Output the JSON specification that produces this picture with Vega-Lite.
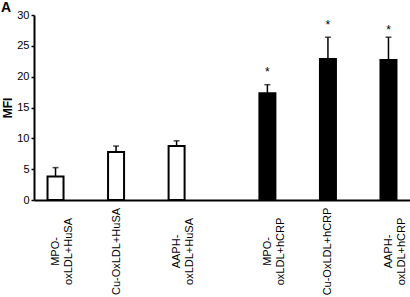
{
  "$schema": "https://vega.github.io/schema/vega-lite/v6.json",
  "width": 376,
  "height": 185,
  "autosize": {"type": "none"},
  "padding": {"left": 34, "top": 15, "right": 0, "bottom": 97},
  "background": "white",
  "title": {"text": "A", "anchor": "start", "frame": "group", "dx": -33, "offset": -6, "fontSize": 14, "fontWeight": "bold", "font": "Liberation Sans", "color": "black"},
  "data": {"values": [
    {"pos": 1, "label": "MPO- oxLDL+HuSA", "group": "HuSA", "mean": 3.8, "upper": 5.25, "star": null},
    {"pos": 2, "label": "Cu-OxLDL+HuSA", "group": "HuSA", "mean": 7.8, "upper": 8.75, "star": null},
    {"pos": 3, "label": "AAPH- oxLDL+HuSA", "group": "HuSA", "mean": 8.75, "upper": 9.6, "star": null},
    {"pos": 4.5, "label": "MPO- oxLDL+hCRP", "group": "hCRP", "mean": 17.3, "upper": 18.7, "star": 20.7},
    {"pos": 5.5, "label": "Cu-OxLDL+hCRP", "group": "hCRP", "mean": 22.85, "upper": 26.4, "star": 28.3},
    {"pos": 6.5, "label": "AAPH- oxLDL+hCRP", "group": "hCRP", "mean": 22.7, "upper": 26.4, "star": 27.6}
  ]},
  "layer": [
    {
      "mark": {"type": "bar", "size": 16, "stroke": "black", "strokeWidth": 2, "opacity": 1},
      "encoding": {
        "x": {"field": "pos", "type": "quantitative", "scale": {"domain": [0.727, 6.773], "nice": false, "zero": false},
          "axis": {"title": null, "values": [1, 2, 3, 4.5, 5.5, 6.5], "labelExpr": "datum.value == 1 ? ['MPO-', 'oxLDL+HuSA'] : datum.value == 2 ? 'Cu-OxLDL+HuSA' : datum.value == 3 ? ['AAPH-', 'oxLDL+HuSA'] : datum.value == 4.5 ? ['MPO-', 'oxLDL+hCRP'] : datum.value == 5.5 ? 'Cu-OxLDL+hCRP' : ['AAPH-', 'oxLDL+hCRP']", "labelAngle": 270, "labelAlign": "center", "labelBaseline": "middle", "labelLineHeight": 13, "labelPadding": 51, "ticks": false, "grid": false, "labelOverlap": false, "labelFlush": false, "labelBound": false}},
        "y": {"field": "mean", "type": "quantitative", "scale": {"domain": [0, 30], "nice": false},
          "axis": {"title": "MFI", "values": [0, 5, 10, 15, 20, 25, 30], "labelOverlap": false, "tickCount": 7}},
        "fill": {"field": "group", "type": "nominal", "scale": {"domain": ["HuSA", "hCRP"], "range": ["white", "black"]}, "legend": null}
      }
    },
    {
      "mark": {"type": "rule", "color": "black", "strokeWidth": 1.5},
      "encoding": {
        "x": {"field": "pos", "type": "quantitative", "scale": {"domain": [0.727, 6.773], "nice": false, "zero": false},
          "axis": {"title": null, "values": [1, 2, 3, 4.5, 5.5, 6.5], "labelExpr": "datum.value == 1 ? ['MPO-', 'oxLDL+HuSA'] : datum.value == 2 ? 'Cu-OxLDL+HuSA' : datum.value == 3 ? ['AAPH-', 'oxLDL+HuSA'] : datum.value == 4.5 ? ['MPO-', 'oxLDL+hCRP'] : datum.value == 5.5 ? 'Cu-OxLDL+hCRP' : ['AAPH-', 'oxLDL+hCRP']", "labelAngle": 270, "labelAlign": "center", "labelBaseline": "middle", "labelLineHeight": 13, "labelPadding": 51, "ticks": false, "grid": false, "labelOverlap": false, "labelFlush": false, "labelBound": false}},
        "y": {"field": "mean", "type": "quantitative", "scale": {"domain": [0, 30], "nice": false},
          "axis": {"title": "MFI", "values": [0, 5, 10, 15, 20, 25, 30], "labelOverlap": false, "tickCount": 7}},
        "y2": {"field": "upper"}
      }
    },
    {
      "mark": {"type": "tick", "orient": "horizontal", "color": "black", "size": 6, "thickness": 1.5},
      "encoding": {
        "x": {"field": "pos", "type": "quantitative", "scale": {"domain": [0.727, 6.773], "nice": false, "zero": false},
          "axis": {"title": null, "values": [1, 2, 3, 4.5, 5.5, 6.5], "labelExpr": "datum.value == 1 ? ['MPO-', 'oxLDL+HuSA'] : datum.value == 2 ? 'Cu-OxLDL+HuSA' : datum.value == 3 ? ['AAPH-', 'oxLDL+HuSA'] : datum.value == 4.5 ? ['MPO-', 'oxLDL+hCRP'] : datum.value == 5.5 ? 'Cu-OxLDL+hCRP' : ['AAPH-', 'oxLDL+hCRP']", "labelAngle": 270, "labelAlign": "center", "labelBaseline": "middle", "labelLineHeight": 13, "labelPadding": 51, "ticks": false, "grid": false, "labelOverlap": false, "labelFlush": false, "labelBound": false}},
        "y": {"field": "upper", "type": "quantitative", "scale": {"domain": [0, 30], "nice": false},
          "axis": {"title": "MFI", "values": [0, 5, 10, 15, 20, 25, 30], "labelOverlap": false, "tickCount": 7}}
      }
    },
    {
      "mark": {"type": "text", "text": "*", "fontSize": 12, "font": "Liberation Sans", "color": "black", "baseline": "middle"},
      "encoding": {
        "x": {"field": "pos", "type": "quantitative", "scale": {"domain": [0.727, 6.773], "nice": false, "zero": false},
          "axis": {"title": null, "values": [1, 2, 3, 4.5, 5.5, 6.5], "labelExpr": "datum.value == 1 ? ['MPO-', 'oxLDL+HuSA'] : datum.value == 2 ? 'Cu-OxLDL+HuSA' : datum.value == 3 ? ['AAPH-', 'oxLDL+HuSA'] : datum.value == 4.5 ? ['MPO-', 'oxLDL+hCRP'] : datum.value == 5.5 ? 'Cu-OxLDL+hCRP' : ['AAPH-', 'oxLDL+hCRP']", "labelAngle": 270, "labelAlign": "center", "labelBaseline": "middle", "labelLineHeight": 13, "labelPadding": 51, "ticks": false, "grid": false, "labelOverlap": false, "labelFlush": false, "labelBound": false}},
        "y": {"field": "star", "type": "quantitative", "scale": {"domain": [0, 30], "nice": false},
          "axis": {"title": "MFI", "values": [0, 5, 10, 15, 20, 25, 30], "labelOverlap": false, "tickCount": 7}}
      }
    }
  ],
  "config": {
    "view": {"stroke": null},
    "axis": {
      "grid": false,
      "domainColor": "black",
      "domainWidth": 2,
      "tickColor": "black",
      "labelFont": "Liberation Sans",
      "labelFontSize": 11,
      "labelColor": "black",
      "titleFont": "Liberation Sans",
      "titleColor": "black"
    },
    "axisY": {
      "tickSize": 3,
      "tickWidth": 1.5,
      "labelPadding": 2,
      "titleFontSize": 12,
      "titleFontWeight": "bold",
      "titlePadding": 2,
      "labelOverlap": false
    }
  }
}
